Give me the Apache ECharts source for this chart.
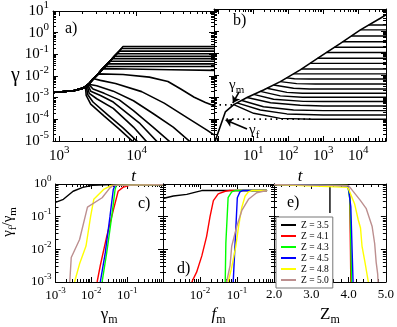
<!DOCTYPE html>
<html>
<head>
<meta charset="utf-8">
<script src="https://cdn.jsdelivr.net/npm/echarts@6/dist/echarts.min.js"></script>
<style>
  html, body { margin: 0; padding: 0; background: #fff; }
  #chart { width: 397px; height: 327px; }
</style>
</head>
<body>
<div id="chart"></div>
<script>
const FONT = 'Liberation Serif';

// ---- panel a : gamma(t), shared rise then plateau or decay
const aRise = [[830,1.74e-3],[1530,2.09e-3],[2040,2.75e-3],[2390,4.17e-3],[2730,7.1e-3],[3190,0.0126],
  [3650,0.0219],[3990,0.030],[4560,0.050],[5210,0.085],[5960,0.141],[6670,0.229]];
const aPlateau = [[6670,0.229],[6370,0.185],[5960,0.141],[5570,0.107],[5210,0.0813],[4870,0.0631],
  [4560,0.0479],[4270,0.0363],[3990,0.0275]];
const aTEnd = 1e5;
const aDecay = [
  [[3650,0.0219],[7800,0.0209],[28000,0.0195],[100000,0.0182]],
  [[3190,0.0126],[6670,0.01175],[14600,8.9e-3],[25400,5.6e-3],[37200,2.51e-3],[55500,1.05e-3],[77600,6.0e-4],[100000,4.2e-4]],
  [[2730,7.6e-3],[3410,6.3e-3],[5330,4.5e-3],[11600,1.9e-3],[22700,5.6e-4],[45400,1.17e-4],[81100,3.2e-5],[100000,1.9e-5]],
  [[2500,5.0e-3],[3050,3.55e-3],[4990,2.0e-3],[9100,7.2e-4],[16300,1.86e-4],[29700,4.4e-5],[49700,8.9e-6]],
  [[2390,4.2e-3],[2730,2.5e-3],[3810,1.58e-3],[5960,7.9e-4],[9100,2.5e-4],[16300,4.4e-5],[27200,8.9e-6]],
  [[2330,4.0e-3],[2550,2.0e-3],[3410,1.26e-3],[4990,6.3e-4],[11100,6.3e-5],[18600,8.9e-6]],
  [[2290,3.8e-3],[2440,1.58e-3],[3050,8.9e-4],[4990,3.2e-4],[9100,4.4e-5],[13600,8.9e-6]],
  [[2230,3.55e-3],[2330,1.41e-3],[2730,6.3e-4],[4270,1.58e-4],[6670,4.0e-5],[10400,8.9e-6]],
  [[2180,3.16e-3],[2230,1.26e-3],[2550,5.0e-4],[3810,1.41e-4],[5960,3.55e-5],[9100,8.9e-6]]
];

// ---- panel b : gamma vs shifted t
const bMain = [[0.81,1e-5],[1.58,2.1e-4],[2.75,4.5e-4],[6.6,9.5e-4],[19.5,2.1e-3],[59,5.0e-3],[219,0.017],
  [813,0.068],[3090,0.275],[11500,1.12],[42700,3.8],[62000,5.4]];
const bTEnd = 62000;
const bBranches = [
  [[20000,1.86]], [[11500,1.12]], [[6300,0.589]], [[3600,0.324]], [[2100,0.182]],
  [[1230,0.105]], [[690,0.0575]], [[420,0.0339]], [[240,0.0186]], [[140,0.0112]],
  [[89,7.4e-3],[150,6.8e-3],[400,6.6e-3]],
  [[59,5.0e-3],[174,4.07e-3],[600,3.9e-3]],
  [[38,3.5e-3],[141,2.5e-3],[400,2.3e-3]],
  [[24.5,2.5e-3],[91,1.62e-3],[251,1.48e-3]],
  [[15.8,1.8e-3],[59,1.12e-3],[251,9.8e-4]],
  [[10.2,1.32e-3],[38,7.9e-4],[269,6.3e-4],[1000,6.2e-4]],
  [[6.6,9.5e-4],[31,5.5e-4],[219,4.2e-4],[1000,3.9e-4]],
  [[4.7,6.9e-4],[19.5,3.6e-4],[141,2.57e-4],[1000,2.4e-4]],
  [[3.4,5.4e-4],[15.8,2.57e-4],[91,1.7e-4],[1000,1.51e-4]],
  [[2.75,4.5e-4],[10.2,1.82e-4],[59,1.07e-4],[500,9.8e-5]]
];
const bGammaM = [[0.75,4.4e-4],[2.75,4.4e-4]];
const bGammaF = [[1.7,9.8e-5],[525,9.8e-5]];
const bArrowM = [[3.9,1.7e-3],[2.6,5.3e-4]];
const bArrowF = [[6.6,3.5e-5],[1.61,8.9e-5]];

// ---- panels c, d, e : gamma_f/gamma_m
const zNames = ['Z = 3.5','Z = 4.1','Z = 4.3','Z = 4.5','Z = 4.8','Z = 5.0'];
const zColors = ['#000000','#ff0000','#00ff00','#0000ff','#ffff00','#bc8f8f'];
const cCurves = [
  [[1e-3,0.275],[1.66e-3,0.34],[3.1e-3,0.6],[5.75e-3,0.79],[0.0107,0.91],[0.037,0.955],[1,0.96]],
  [[0.0145,1e-3],[0.0178,3.2e-3],[0.0269,0.025],[0.041,0.155],[0.056,0.6],[0.076,0.79],[0.115,0.91],[1,0.96]],
  [[0.02,1e-3],[0.0269,7.9e-3],[0.037,0.098],[0.046,0.68],[0.05,0.91],[1,0.96]],
  [[0.0178,1e-3],[0.0245,7.9e-3],[0.033,0.098],[0.041,0.68],[0.046,0.91],[1,0.96]],
  [[3.4e-3,1e-3],[4.7e-3,3.6e-3],[7.1e-3,0.0126],[9.5e-3,0.098],[0.0117,0.34],[0.022,0.68],[0.037,0.91],[1,0.96]],
  [[2.5e-3,1e-3],[2.75e-3,5.6e-3],[4.7e-3,0.02],[7.8e-3,0.195],[0.02,0.38],[0.033,0.76],[0.041,0.91],[1,0.96]]
];
const dCurves = [
  [[1e-3,0.36],[1.9e-3,0.43],[4.4e-3,0.48],[8.1e-3,0.575],[0.0112,0.63],[0.65,0.63]],
  [[6.0e-3,1e-3],[8.1e-3,2.0e-3],[0.0112,6.3e-3],[0.0151,0.025],[0.0186,0.098],[0.023,0.31],[0.031,0.5],[0.048,0.6],[0.063,0.63],[0.65,0.63]],
  [[0.048,1e-3],[0.05,0.0158],[0.0575,0.38],[0.072,0.575],[0.089,0.63],[0.65,0.63]],
  [[0.079,1e-3],[0.089,0.0158],[0.102,0.38],[0.12,0.575],[0.141,0.63],[0.65,0.63]],
  [[0.0575,1e-3],[0.071,2.6e-3],[0.093,0.0126],[0.11,0.049],[0.135,0.195],[0.166,0.43],[0.204,0.575],[0.25,0.63],[0.65,0.63]],
  [[0.0525,1e-3],[0.065,3.2e-3],[0.072,0.0126],[0.098,0.049],[0.135,0.155],[0.204,0.34],[0.34,0.54],[0.51,0.6],[0.65,0.62]]
];
const eCurves = [
  [[2.0,0.96],[3.5,0.96],[3.5,0.13]],
  [[2.0,0.96],[3.97,0.9],[4.03,0.5],[4.05,0.01],[4.06,1e-3]],
  [[2.0,0.96],[3.98,0.9],[4.04,0.3],[4.08,1e-3]],
  [[2.0,0.96],[3.99,0.88],[4.06,0.2],[4.12,1e-3]],
  [[2.0,0.96],[3.98,0.79],[4.16,0.25],[4.26,0.079],[4.32,0.045],[4.36,0.0126],[4.44,4.0e-3],[4.53,1e-3]],
  [[2.0,0.96],[4.0,0.89],[4.31,0.32],[4.47,0.18],[4.63,0.051],[4.7,0.0148],[4.74,4.0e-3],[4.78,1.78e-3],[4.79,1e-3]]
];

// tick labels shown (powers of ten)
const aXExps = [3, 4];
const bXExps = [1, 2, 3, 4];
const abYExps = [1, 0, -1, -2, -3, -4, -5];
const cXExps = [-3, -2, -1];
const dXExps = [-2, -1];
const cYExps = [0, -1, -2, -3];
const eXTicks = ['2.0', '3.0', '4.0', '5.0'];

function powLabel(exps, size, margin) {
  return {
    show: true, margin: margin,
    formatter: function (v) {
      const l = Math.log10(v), e = Math.round(l);
      if (Math.abs(l - e) > 1e-6 || exps.indexOf(e) < 0) return '';
      return '{b|10}{s|' + e + '}';
    },
    rich: {
      b: { fontFamily: FONT, fontSize: size, color: '#000' },
      s: { fontFamily: FONT, fontSize: Math.round(size * 0.72), color: '#000', padding: [0, 0, Math.round(size * 0.75), 0] }
    }
  };
}

function axis(grid, pos, type, min, max, label, extra) {
  return Object.assign({
    type: type, gridIndex: grid, position: pos, min: min, max: max,
    axisLine: { show: true, onZero: false, lineStyle: { color: '#000', width: 1 } },
    axisTick: { show: true, inside: true, length: 5, lineStyle: { color: '#000' } },
    minorTick: { show: true, splitNumber: type === 'log' ? 9 : 5, length: 3, lineStyle: { color: '#000' } },
    splitLine: { show: false },
    axisLabel: label || { show: false }
  }, type === 'log' ? { logBase: 10 } : {}, extra || {});
}

const nameStyle = function (size, extra) {
  return Object.assign({ fontFamily: FONT, fontSize: size, color: '#000',
    rich: {
      g: { fontFamily: FONT, fontSize: size, color: '#000' },
      i: { fontFamily: FONT, fontSize: size, fontStyle: 'italic', color: '#000' },
      sub: { fontFamily: FONT, fontSize: Math.round(size * 0.7), color: '#000', padding: [Math.round(size * 0.6), 0, 0, 0] }
    } }, extra || {});
};

const xAxes = [
  axis(0, 'bottom', 'log', 830, 1e5, powLabel(aXExps, 15, 4),
    { name: 't', nameLocation: 'middle', nameGap: 27, nameTextStyle: nameStyle(17, { fontStyle: 'italic' }) }),
  axis(1, 'bottom', 'log', 0.75, bTEnd, powLabel(bXExps, 15, 4),
    { name: 't', nameLocation: 'middle', nameGap: 27, nameTextStyle: nameStyle(17, { fontStyle: 'italic' }) }),
  axis(2, 'bottom', 'log', 1e-3, 1, powLabel(cXExps, 13, 4),
    { name: '{g|γ}{sub|m}', nameLocation: 'middle', nameGap: 22, nameTextStyle: nameStyle(17) }),
  axis(3, 'bottom', 'log', 1e-3, 1, powLabel(dXExps, 13, 4),
    { name: '{i|f}{sub|m}', nameLocation: 'middle', nameGap: 22, nameTextStyle: nameStyle(17) }),
  axis(4, 'bottom', 'value', 2, 5, {
      show: true, margin: 6, fontFamily: FONT, fontSize: 13, color: '#000',
      formatter: function (v) { return eXTicks[Math.round(v) - 2]; }
    },
    { interval: 1, name: '{g|Z}{sub|m}', nameLocation: 'middle', nameGap: 22, nameTextStyle: nameStyle(17) }),
  axis(0, 'top', 'log', 830, 1e5),
  axis(1, 'top', 'log', 0.75, bTEnd),
  axis(2, 'top', 'log', 1e-3, 1),
  axis(3, 'top', 'log', 1e-3, 1),
  axis(4, 'top', 'value', 2, 5, null, { interval: 1 })
];

const yAxes = [
  axis(0, 'left', 'log', 1e-5, 10, powLabel(abYExps, 15, 4),
    { name: 'γ', nameLocation: 'middle', nameRotate: 0, nameGap: 33, nameTextStyle: nameStyle(20) }),
  axis(1, 'left', 'log', 1e-5, 10),
  axis(2, 'left', 'log', 1e-3, 1, powLabel(cYExps, 13, 4),
    { name: '{g|γ}{sub|f}{g|/γ}{sub|m}', nameLocation: 'middle', nameGap: 37,
      nameTextStyle: nameStyle(15, { padding: [0, 0, 0, 22] }) }),
  axis(3, 'left', 'log', 1e-3, 1),
  axis(4, 'left', 'log', 1e-3, 1),
  axis(0, 'right', 'log', 1e-5, 10),
  axis(1, 'right', 'log', 1e-5, 10),
  axis(2, 'right', 'log', 1e-3, 1),
  axis(3, 'right', 'log', 1e-3, 1),
  axis(4, 'right', 'log', 1e-3, 1)
];

function line(grid, data, color, width, name, extra) {
  return Object.assign({
    type: 'line', name: name, xAxisIndex: grid, yAxisIndex: grid, data: data,
    showSymbol: false, symbol: 'none', silent: true, z: 3,
    lineStyle: { color: color, width: width }, itemStyle: { color: color }
  }, extra || {});
}

const series = [];
aPlateau.forEach(function (p) {
  const path = aRise.filter(function (q) { return q[0] < p[0]; }).concat([p, [aTEnd, p[1]]]);
  series.push(line(0, path, '#000', 1.6));
});
aDecay.forEach(function (d) {
  const path = aRise.filter(function (q) { return q[0] < d[0][0]; }).concat(d);
  series.push(line(0, path, '#000', 1.6));
});
series.push(line(1, bMain, '#000', 1.6));
bBranches.forEach(function (b) {
  series.push(line(1, b.concat([[bTEnd, b[b.length - 1][1]]]), '#000', 1.4));
});
series.push(line(1, bGammaM, '#000', 1.6, undefined, { lineStyle: { color: '#000', width: 1.8, type: [1.5, 4] } }));
series.push(line(1, bGammaF, '#000', 1.6, undefined, { lineStyle: { color: '#000', width: 1.8, type: [1.5, 4] } }));
series.push(line(1, [], '#000', 1, undefined, {
  markLine: {
    silent: true, animation: false, symbol: ['none', 'arrow'], symbolSize: 7,
    label: { show: false },
    lineStyle: { color: '#000', width: 1.6, type: 'solid' },
    data: [
      [{ coord: bArrowM[0] }, { coord: bArrowM[1] }],
      [{ coord: bArrowF[0] }, { coord: bArrowF[1] }]
    ]
  }
}));
[cCurves, dCurves, eCurves].forEach(function (set, k) {
  set.forEach(function (d, i) {
    series.push(line(2 + k, d, zColors[i], 1.4, zNames[i]));
  });
});

const chart = echarts.init(document.getElementById('chart'), null, { renderer: 'canvas' });
chart.setOption({
  animation: false,
  backgroundColor: '#fff',
  grid: [
    { left: 53, top: 9, width: 161, height: 132 },
    { left: 214, top: 9, width: 172, height: 132 },
    { left: 52, top: 184, width: 111, height: 101 },
    { left: 163, top: 184, width: 111, height: 101 },
    { left: 274, top: 184, width: 112, height: 101 }
  ],
  xAxis: xAxes,
  yAxis: yAxes,
  legend: {
    left: 276, top: 217, orient: 'vertical', selectedMode: false,
    icon: 'rect', itemWidth: 15, itemHeight: 2, itemGap: 1,
    padding: [3, 4, 3, 5], borderColor: '#777', borderWidth: 1, backgroundColor: '#fff',
    textStyle: { fontFamily: FONT, fontSize: 9.5, color: '#000', lineHeight: 9 },
    data: zNames
  },
  graphic: [
    { type: 'text', left: 65, top: 21, style: { text: 'a)', font: '16px "Liberation Serif"', fill: '#000' } },
    { type: 'text', left: 233, top: 13, style: { text: 'b)', font: '16px "Liberation Serif"', fill: '#000' } },
    { type: 'text', left: 138, top: 196, style: { text: 'c)', font: '16px "Liberation Serif"', fill: '#000' } },
    { type: 'text', left: 177, top: 261, style: { text: 'd)', font: '16px "Liberation Serif"', fill: '#000' } },
    { type: 'text', left: 287, top: 195, style: { text: 'e)', font: '16px "Liberation Serif"', fill: '#000' } },
    { type: 'text', left: 229, top: 78, style: { text: '{g|γ}{s|m}', rich: {
      g: { fontFamily: FONT, fontSize: 15, fill: '#000' },
      s: { fontFamily: FONT, fontSize: 11, fill: '#000', padding: [9, 0, 0, 0] } } } },
    { type: 'text', left: 249, top: 123, style: { text: '{g|γ}{s|f}', rich: {
      g: { fontFamily: FONT, fontSize: 15, fill: '#000' },
      s: { fontFamily: FONT, fontSize: 11, fill: '#000', padding: [9, 0, 0, 0] } } } }
  ],
  series: series
});
</script>
</body>
</html>
